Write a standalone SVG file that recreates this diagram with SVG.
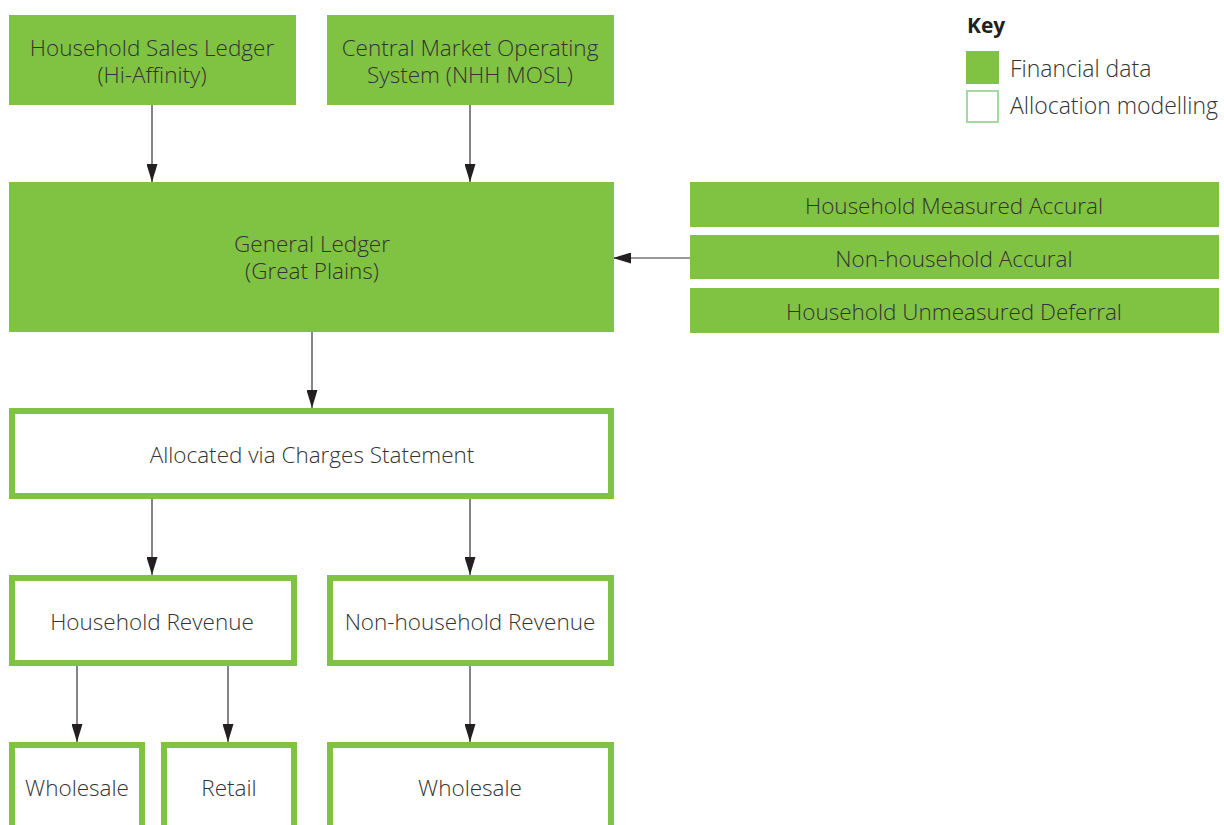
<svg xmlns="http://www.w3.org/2000/svg" width="1224" height="825" viewBox="0 0 1224 825">
<defs>
<style>
.fin{fill:#80c242;}
.alloc{fill:#fff;stroke:#80c242;stroke-width:6;}
.t{font-family:"Open Sans","Noto Sans","Liberation Sans",sans-serif;font-weight:300;font-size:22.5px;fill:#333;text-anchor:middle;}
.k{font-family:"Open Sans","Noto Sans","Liberation Sans",sans-serif;font-weight:300;font-size:23px;fill:#333;}
.c{stroke:#333;stroke-width:1.2;fill:none;marker-end:url(#ah);}
</style>
<marker id="ah" markerWidth="18" markerHeight="11" refX="18" refY="5.5" orient="auto" markerUnits="userSpaceOnUse">
<path d="M0,0 L18,5.5 L0,11 Z" fill="#231f20"/>
</marker>
</defs>
<rect width="1224" height="825" fill="#fff"/>
<g id="connectors">
<line class="c" x1="152" y1="105" x2="152" y2="182"/>
<line class="c" x1="470" y1="105" x2="470" y2="182"/>
<line class="c" x1="690" y1="258" x2="613" y2="258"/>
<line class="c" x1="312" y1="332" x2="312" y2="408"/>
<line class="c" x1="152" y1="499" x2="152" y2="575"/>
<line class="c" x1="470" y1="499" x2="470" y2="575"/>
<line class="c" x1="77" y1="666" x2="77" y2="742"/>
<line class="c" x1="228" y1="666" x2="228" y2="742"/>
<line class="c" x1="470" y1="666" x2="470" y2="742"/>
</g>
<g id="hsl"><rect class="fin" x="9" y="15" width="287" height="90"/><text class="t" x="152" y="56">Household Sales Ledger</text><text class="t" x="152" y="83">(Hi-Affinity)</text></g>
<g id="cmos"><rect class="fin" x="327" y="15" width="287" height="90"/><text class="t" x="470" y="56">Central Market Operating</text><text class="t" x="470" y="83">System (NHH MOSL)</text></g>
<g id="gl"><rect class="fin" x="9" y="182" width="605" height="150"/><text class="t" x="312" y="252">General Ledger</text><text class="t" x="312" y="279">(Great Plains)</text></g>
<g id="hma"><rect class="fin" x="690" y="182" width="529" height="45"/><text class="t" x="954" y="214">Household Measured Accural</text></g>
<g id="nha"><rect class="fin" x="690" y="235" width="529" height="44"/><text class="t" x="954" y="267">Non-household Accural</text></g>
<g id="hud"><rect class="fin" x="690" y="288" width="529" height="45"/><text class="t" x="954" y="320">Household Unmeasured Deferral</text></g>
<g id="acs"><rect class="alloc" x="12" y="411" width="599" height="85"/><text class="t" x="312" y="463">Allocated via Charges Statement</text></g>
<g id="hr"><rect class="alloc" x="12" y="578" width="282" height="85"/><text class="t" x="152" y="630">Household Revenue</text></g>
<g id="nhr"><rect class="alloc" x="330" y="578" width="281" height="85"/><text class="t" x="470" y="630">Non-household Revenue</text></g>
<g id="hw"><rect class="alloc" x="12" y="745" width="130" height="100"/><text class="t" x="77" y="796">Wholesale</text></g>
<g id="hret"><rect class="alloc" x="164" y="745" width="130" height="100"/><text class="t" x="229" y="796">Retail</text></g>
<g id="nw"><rect class="alloc" x="330" y="745" width="281" height="100"/><text class="t" x="470" y="796">Wholesale</text></g>
<g id="key">
<text x="967" y="33" style="font-family:'Open Sans','Noto Sans','Liberation Sans',sans-serif;font-weight:700;font-size:21px;fill:#231f20;">Key</text>
<rect class="fin" x="966" y="51" width="33" height="33"/>
<rect x="967" y="91" width="31" height="31" fill="#fff" stroke="#a6d8a2" stroke-width="2"/>
<text class="k" x="1010" y="77">Financial data</text>
<text class="k" x="1010" y="114">Allocation modelling</text>
</g>
</svg>
